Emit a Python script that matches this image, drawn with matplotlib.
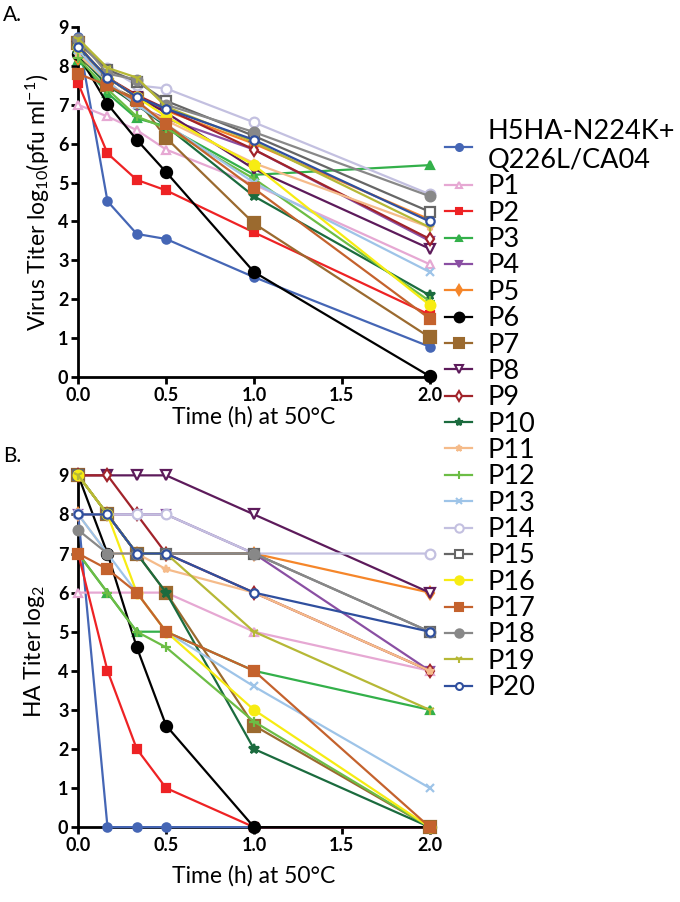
import numpy as np
import matplotlib
matplotlib.use("Agg")
import matplotlib.pyplot as plt
from matplotlib.lines import Line2D

plt.rcParams['font.family'] = ['Lato', 'DejaVu Sans']
plt.rcParams['mathtext.fontset'] = 'custom'
plt.rcParams['mathtext.rm'] = 'Lato'
plt.rcParams['mathtext.it'] = 'Lato:italic'
plt.rcParams['mathtext.bf'] = 'Lato:bold'

# time points (h)
times = [0.0, 1 / 6, 1 / 3, 0.5, 1.0, 2.0]

labels = ["H5HA-N224K+\nQ226L/CA04", "P1", "P2", "P3", "P4", "P5", "P6", "P7", "P8", "P9",
          "P10", "P11", "P12", "P13", "P14", "P15", "P16", "P17", "P18", "P19", "P20"]

# Panel A: virus titer log10(pfu/ml)
virus_titer = [
    [8.75, 4.52, 3.68, 3.55, 2.57, 0.78],   # H5HA
    [7.0, 6.7, 6.35, 5.85, 4.95, 2.9],      # P1
    [7.55, 5.75, 5.07, 4.8, 3.72, 1.6],     # P2
    [8.15, 7.3, 6.65, 6.45, 5.2, 5.45],     # P3
    [8.4, 7.6, 6.95, 6.65, 5.85, 3.5],      # P4
    [8.2, 7.7, 7.2, 6.85, 6.0, 4.05],       # P5
    [8.3, 7.02, 6.1, 5.27, 2.7, 0.02],      # P6
    [8.6, 7.5, 7.15, 6.15, 3.95, 1.02],     # P7
    [8.5, 7.7, 7.2, 6.8, 5.35, 3.3],        # P8
    [8.5, 7.7, 7.25, 6.9, 5.85, 3.55],      # P9
    [8.3, 7.5, 7.0, 6.45, 4.65, 2.1],       # P10
    [8.3, 7.6, 7.0, 6.6, 5.5, 3.85],        # P11
    [8.2, 7.4, 6.7, 6.4, 5.1, 1.95],        # P12
    [8.4, 7.6, 7.0, 6.5, 5.0, 2.7],         # P13
    [8.6, 7.95, 7.5, 7.42, 6.55, 4.7],      # P14
    [8.6, 7.9, 7.6, 7.1, 6.2, 4.25],        # P15
    [8.5, 7.7, 7.2, 6.7, 5.45, 1.85],       # P16
    [7.8, 7.5, 7.1, 6.5, 4.85, 1.5],        # P17
    [8.7, 7.8, 7.65, 7.0, 6.3, 4.65],       # P18
    [8.7, 7.95, 7.7, 6.95, 6.05, 3.85],     # P19
    [8.5, 7.7, 7.2, 6.9, 6.1, 4.0],         # P20
]

# Panel B: HA titer log2
ha_titer = [
    [8, 0, 0, 0, 0, 0],           # H5HA
    [6, 6, 6, 6, 5, 4],           # P1
    [7, 4, 2, 1, 0, 0],           # P2
    [7, 6, 5, 5, 4, 3],           # P3
    [8, 8, 8, 8, 7, 4],           # P4
    [8, 8, 7, 7, 7, 6],           # P5
    [9, 7, 4.6, 2.6, 0, 0],       # P6
    [9, 8, 7, 6, 2.6, 0],         # P7
    [9, 9, 9, 9, 8, 6],           # P8
    [9, 9, 8, 7, 6, 4],           # P9
    [9, 8, 7, 6, 2, 0],           # P10
    [8, 7, 7, 6.6, 6, 4],         # P11
    [7, 6, 5, 4.6, 2.7, 0],       # P12
    [8, 7, 6, 5, 3.6, 1],         # P13
    [8, 8, 8, 8, 7, 7],           # P14
    [9, 8, 7, 7, 7, 5],           # P15
    [9, 8, 6, 5, 3, 0],           # P16
    [7, 6.6, 6, 5, 4, 0],         # P17
    [7.6, 7, 7, 7, 7, 5],         # P18
    [9, 8, 7, 7, 5, 3],           # P19
    [8, 8, 7, 7, 6, 5],           # P20
]

colors = ["#4566b5", "#e6a8d3", "#ee2224", "#33b04a", "#8a4fa3", "#f5862a", "#000000",
          "#9b6a2f", "#5d1b5b", "#a1232a", "#1b6b3e", "#f5bb8a", "#6cbd45", "#9ec4e8",
          "#c3c0e0", "#666666", "#f7ec13", "#c4622d", "#888888", "#b6b836", "#2f4f9e"]
markers = ["o", "^", "s", "^", "v", "d", "o", "s", "v", "d", "*", "*", "+", "x",
           "o", "s", "o", "s", "o", "1", "o"]
hollow = [False, True, False, False, False, False, False, False, True, True, False,
          False, False, False, True, True, False, False, False, False, True]
msizes = [6, 6, 6, 6, 6, 6, 8, 8, 7, 6, 7, 6, 7, 6, 7, 7, 7, 7, 7, 7, 6]

fig = plt.figure(figsize=(6.8, 9.02), dpi=100)
axA = fig.add_axes([0.115, 0.582, 0.517, 0.388])
axB = fig.add_axes([0.115, 0.083, 0.517, 0.390])


def draw(ax, data, xpad):
    for i, vals in enumerate(data):
        ax.plot(times, vals, color=colors[i], marker=markers[i], ms=msizes[i],
                mfc="white" if hollow[i] else colors[i], mec=colors[i], mew=1.6,
                lw=1.6, clip_on=False, zorder=3 + i * 0.01)
    ax.set_xlim(0, 2.0)
    ax.set_ylim(0, 9)
    ax.set_xticks([0.0, 0.5, 1.0, 1.5, 2.0])
    ax.set_xticklabels(["0.0", "0.5", "1.0", "1.5", "2.0"])
    ax.set_yticks(range(10))
    for side in ["top", "right"]:
        ax.spines[side].set_visible(False)
    for side in ["left", "bottom"]:
        ax.spines[side].set_linewidth(2)
    ax.tick_params(width=2, length=5, labelsize=13, pad=2)
    for t in ax.get_xticklabels() + ax.get_yticklabels():
        t.set_fontweight("bold")
    ax.set_xlabel("Time (h) at 50°C", fontsize=16.5, labelpad=xpad)


draw(axA, virus_titer, 2)
draw(axB, ha_titer, 8)
axA.set_ylabel(r"Virus Titer log$_{10}$(pfu ml$^{-1}$)", fontsize=16.5, labelpad=4)
axB.set_ylabel(r"HA Titer log$_{2}$", fontsize=16.5, labelpad=8)

fig.text(0.005, 0.995, "A.", fontsize=15, va="top")
fig.text(0.005, 0.505, "B.", fontsize=15, va="top")

handles = [Line2D([], [], color=colors[i], marker=markers[i], ms=msizes[i] - 1,
                  mfc="white" if hollow[i] else colors[i], mec=colors[i], mew=1.5, lw=1.6)
           for i in range(len(labels))]
fig.legend(handles, labels, loc="upper left", bbox_to_anchor=(0.655, 0.868),
           frameon=False, fontsize=19.5, handlelength=1.0, handletextpad=0.55,
           labelspacing=0.05, borderpad=0, borderaxespad=0)

fig.savefig("out.png", dpi=100)
